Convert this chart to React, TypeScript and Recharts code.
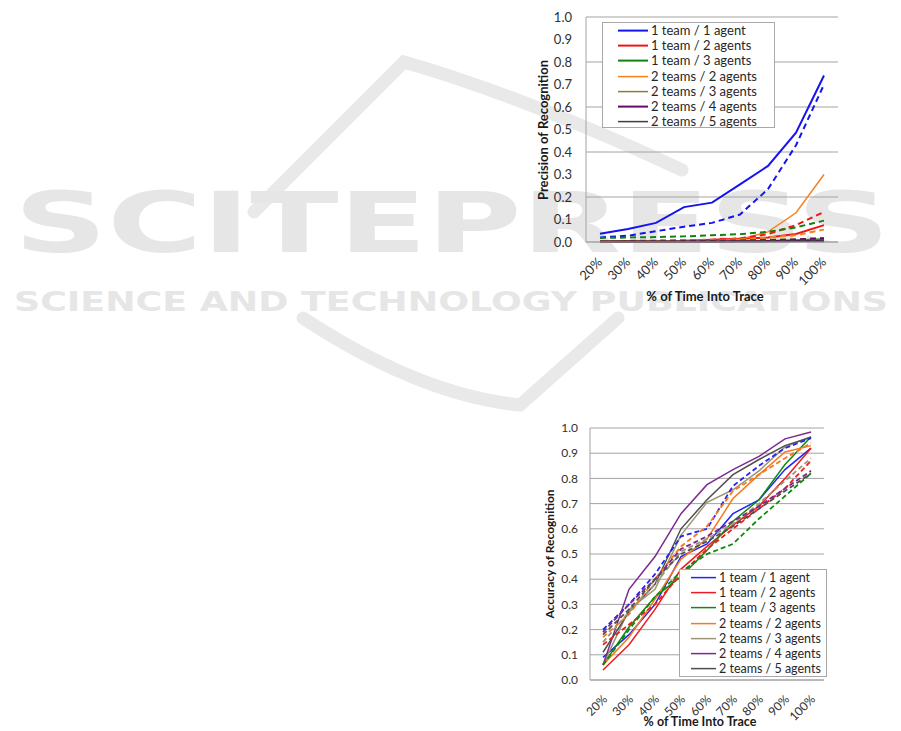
import { CartesianGrid, Legend, Line, LineChart, XAxis, YAxis } from "recharts";

const categories = ["20%", "30%", "40%", "50%", "60%", "70%", "80%", "90%", "100%"];
const yTicks = [0, 0.1, 0.2, 0.3, 0.4, 0.5, 0.6, 0.7, 0.8, 0.9, 1.0];

const seriesNames = [
  "1 team / 1 agent",
  "1 team / 2 agents",
  "1 team / 3 agents",
  "2 teams / 2 agents",
  "2 teams / 3 agents",
  "2 teams / 4 agents",
  "2 teams / 5 agents",
];

// precision of recognition (solid + dashed)
const prec1t1a = [0.037, 0.058, 0.085, 0.155, 0.175, 0.256, 0.338, 0.486, 0.74];
const prec1t2a = [0.003, 0.004, 0.005, 0.006, 0.01, 0.014, 0.02, 0.036, 0.075];
const prec1t3a = [0.002, 0.002, 0.002, 0.003, 0.003, 0.004, 0.005, 0.008, 0.012];
const prec2t2a = [0.0, 0.001, 0.002, 0.003, 0.005, 0.012, 0.045, 0.13, 0.3];
const prec2t3a = [0.001, 0.001, 0.002, 0.002, 0.003, 0.004, 0.005, 0.007, 0.01];
const prec2t4a = [0.001, 0.001, 0.001, 0.002, 0.002, 0.003, 0.004, 0.005, 0.006];
const prec2t5a = [0.0, 0.0, 0.0, 0.001, 0.001, 0.001, 0.001, 0.002, 0.002];

const prec1t1aB = [0.02, 0.028, 0.048, 0.068, 0.085, 0.122, 0.235, 0.43, 0.7];
const prec1t2aB = [0.004, 0.005, 0.006, 0.008, 0.01, 0.016, 0.035, 0.075, 0.134];
const prec1t3aB = [0.018, 0.02, 0.022, 0.025, 0.03, 0.035, 0.045, 0.065, 0.095];
const prec2t2aB = [0.002, 0.003, 0.004, 0.006, 0.008, 0.012, 0.02, 0.03, 0.055];
const prec2t3aB = [0.003, 0.004, 0.005, 0.006, 0.007, 0.008, 0.01, 0.012, 0.016];
const prec2t4aB = [0.002, 0.003, 0.003, 0.004, 0.005, 0.006, 0.008, 0.011, 0.017];
const prec2t5aB = [0.001, 0.001, 0.002, 0.002, 0.003, 0.004, 0.005, 0.006, 0.008];

// accuracy of recognition (solid + dashed)
const acc1t1a = [0.09, 0.18, 0.3, 0.49, 0.54, 0.66, 0.715, 0.835, 0.92];
const acc1t2a = [0.04, 0.14, 0.28, 0.44, 0.53, 0.615, 0.69, 0.8, 0.92];
const acc1t3a = [0.06, 0.21, 0.33, 0.41, 0.515, 0.63, 0.715, 0.855, 0.965];
const acc2t2a = [0.06, 0.17, 0.32, 0.48, 0.56, 0.72, 0.815, 0.905, 0.93];
const acc2t3a = [0.06, 0.28, 0.36, 0.575, 0.705, 0.755, 0.83, 0.925, 0.965];
const acc2t4a = [0.06, 0.36, 0.49, 0.66, 0.775, 0.835, 0.887, 0.957, 0.984];
const acc2t5a = [0.11, 0.27, 0.38, 0.6, 0.715, 0.815, 0.875, 0.93, 0.963];

const acc1t1aB = [0.2, 0.3, 0.42, 0.57, 0.6, 0.77, 0.85, 0.92, 0.96];
const acc1t2aB = [0.14, 0.22, 0.3, 0.42, 0.52, 0.6, 0.68, 0.76, 0.87];
const acc1t3aB = [0.06, 0.2, 0.33, 0.43, 0.5, 0.54, 0.64, 0.73, 0.82];
const acc2t2aB = [0.17, 0.26, 0.4, 0.53, 0.61, 0.75, 0.815, 0.88, 0.94];
const acc2t3aB = [0.15, 0.27, 0.38, 0.51, 0.56, 0.62, 0.7, 0.79, 0.88];
const acc2t4aB = [0.19, 0.3, 0.4, 0.52, 0.57, 0.63, 0.69, 0.76, 0.83];
const acc2t5aB = [0.18, 0.28, 0.4, 0.5, 0.55, 0.61, 0.68, 0.75, 0.82];

const precColors = ["#1414f0", "#f01414", "#128212", "#f5821f", "#8c7d32", "#660a66", "#404040"];
const precWidths = [2, 2, 2, 1.5, 1.5, 2, 1.5];
const accColors = ["#2323f5", "#ee1c1c", "#0f8a0f", "#f7781e", "#9c9676", "#7a2a8e", "#4f4f4f"];

const font = "Lato, 'Noto Sans', sans-serif";

function buildRows(solid: number[][], dashed: number[][]) {
  return categories.map((c, i) => {
    const row: Record<string, string | number> = { t: c };
    solid.forEach((s, k) => (row[`s${k}`] = s[i]));
    dashed.forEach((s, k) => (row[`d${k}`] = s[i]));
    return row;
  });
}

const precRows = buildRows(
  [prec1t1a, prec1t2a, prec1t3a, prec2t2a, prec2t3a, prec2t4a, prec2t5a],
  [prec1t1aB, prec1t2aB, prec1t3aB, prec2t2aB, prec2t3aB, prec2t4aB, prec2t5aB]
);
const accRows = buildRows(
  [acc1t1a, acc1t2a, acc1t3a, acc2t2a, acc2t3a, acc2t4a, acc2t5a],
  [acc1t1aB, acc1t2aB, acc1t3aB, acc2t2aB, acc2t3aB, acc2t4aB, acc2t5aB]
);

function slantTick(dx: number, dy: number, size: number) {
  return (props: any) => {
    const { x, y, payload } = props;
    return (
      <g transform={`translate(${x + dx},${y + dy})`}>
        <text textAnchor="end" transform="rotate(-45)" fontSize={size} fill="#303030" fontFamily={font}>
          {payload.value}
        </text>
      </g>
    );
  };
}

function legendBox(lineX: number, lineW: number, textX: number, size: number, rowH: number) {
  return (props: any) => {
    const items = (props.payload || []).filter((p: any) => p.type !== "none");
    return (
      <div style={{ position: "relative", width: "100%", height: "100%", boxSizing: "border-box", border: "1px solid #a8a8a8", background: "#fff", fontFamily: font }}>
        {items.map((it: any, i: number) => (
          <div key={i} style={{ position: "absolute", left: 0, top: i * rowH, height: rowH, width: "100%" }}>
            <svg width={lineW} height={rowH} style={{ position: "absolute", left: lineX, top: 0 }}>
              <line x1={0} x2={lineW} y1={rowH / 2} y2={rowH / 2} stroke={it.color} strokeWidth={it.payload?.strokeWidth ?? 1.5} />
            </svg>
            <div style={{ position: "absolute", left: textX, top: 0, lineHeight: `${rowH}px`, fontSize: size, color: "#262626", whiteSpace: "nowrap" }}>
              {it.value}
            </div>
          </div>
        ))}
      </div>
    );
  };
}

function title(text: string, cx: number, cy: number, size: number, rotate = false) {
  return (
    <div
      style={{
        position: "absolute",
        left: cx,
        top: cy,
        transform: `translate(-50%, -50%)${rotate ? " rotate(180deg)" : ""}`,
        writingMode: rotate ? "vertical-rl" : undefined,
        whiteSpace: "nowrap",
        fontFamily: font,
        fontWeight: 700,
        fontSize: size,
        lineHeight: 1.1,
        color: "#1a1a1a",
      }}
    >
      {text}
    </div>
  );
}

function Watermark() {
  return (
    <svg width={901} height={731} style={{ position: "absolute", left: 0, top: 0 }}>
      <g fill="none" stroke="#e9e9e9" strokeWidth={13} strokeLinecap="round">
        <path d="M254 212 L404 62 Q520 95 682 170" />
        <path d="M303 318 Q420 395 520 405 L618 318" />
      </g>
      <text x={14} y={252} textLength={876} lengthAdjust="spacingAndGlyphs" fontSize={84} fontWeight={700} fill="#e6e6e6" fontFamily="'DejaVu Sans', sans-serif">
        SCITEPRESS
      </text>
      <text x={14} y={311} textLength={874} lengthAdjust="spacingAndGlyphs" fontSize={27} fontWeight={700} fill="#e6e6e6" fontFamily="'DejaVu Sans', sans-serif">
        SCIENCE AND TECHNOLOGY PUBLICATIONS
      </text>
    </svg>
  );
}

export default function App() {
  return (
    <div style={{ position: "absolute", left: 0, top: 0, width: 901, height: 731, background: "#fff", overflow: "hidden" }}>
      <Watermark />

      <div style={{ position: "absolute", left: 520, top: 0 }}>
        <LineChart width={330} height={310} data={precRows} margin={{ top: 17, right: 12, left: 26, bottom: 0 }}>
          <CartesianGrid vertical={false} stroke="#a3a3a3" />
          <XAxis
            dataKey="t"
            interval={0}
            padding={{ left: 14, right: 14 }}
            height={68}
            tickLine={false}
            tickSize={0}
            stroke="#a3a3a3"
            tick={slantTick(3, 19, 13)}
          />
          <YAxis
            domain={[0, 1]}
            ticks={yTicks}
            width={40}
            tickLine={false}
            tickSize={0}
            tickMargin={14}
            stroke="#a3a3a3"
            tickFormatter={(v: number) => v.toFixed(1)}
            tick={{ fontSize: 13, fill: "#303030", fontFamily: font }}
          />
          <Legend
            layout="vertical"
            align="center"
            verticalAlign="middle"
            wrapperStyle={{ left: 82, top: 22, width: 173, height: 106 }}
            content={legendBox(15, 30, 48, 13, 15.2)}
          />
          {seriesNames.map((n, k) => (
            <Line key={`s${k}`} dataKey={`s${k}`} name={n} stroke={precColors[k]} strokeWidth={precWidths[k]} dot={false} activeDot={false} isAnimationActive={false} />
          ))}
          {seriesNames.map((n, k) => (
            <Line key={`d${k}`} dataKey={`d${k}`} name={n} legendType="none" stroke={precColors[k]} strokeWidth={2} strokeDasharray="6 4" dot={false} activeDot={false} isAnimationActive={false} />
          ))}
        </LineChart>
      </div>
      {title("Precision of Recognition", 543, 130, 13, true)}
      {title("% of Time Into Trace", 705, 296, 13)}

      <div style={{ position: "absolute", left: 520, top: 410 }}>
        <LineChart width={320} height={321} data={accRows} margin={{ top: 18, right: 16, left: 30, bottom: 0 }}>
          <CartesianGrid vertical={false} stroke="#a3a3a3" />
          <XAxis
            dataKey="t"
            interval={0}
            padding={{ left: 13, right: 13 }}
            height={51}
            tickLine={false}
            tickSize={0}
            stroke="#a3a3a3"
            tick={slantTick(5, 18, 12)}
          />
          <YAxis
            domain={[0, 1]}
            ticks={yTicks}
            width={40}
            tickLine={false}
            tickSize={0}
            tickMargin={12}
            stroke="#a3a3a3"
            tickFormatter={(v: number) => v.toFixed(1)}
            tick={{ fontSize: 12, fill: "#303030", fontFamily: font }}
          />
          <Legend
            layout="vertical"
            align="center"
            verticalAlign="middle"
            wrapperStyle={{ left: 159, top: 159, width: 148, height: 108 }}
            content={legendBox(11, 25, 39, 12.5, 15.2)}
          />
          {seriesNames.map((n, k) => (
            <Line key={`s${k}`} dataKey={`s${k}`} name={n} stroke={accColors[k]} strokeWidth={1.5} dot={false} activeDot={false} isAnimationActive={false} />
          ))}
          {seriesNames.map((n, k) => (
            <Line key={`d${k}`} dataKey={`d${k}`} name={n} legendType="none" stroke={accColors[k]} strokeWidth={1.8} strokeDasharray="5 3" dot={false} activeDot={false} isAnimationActive={false} />
          ))}
        </LineChart>
      </div>
      {title("Accuracy of Recognition", 550, 554, 12, true)}
      {title("% of Time Into Trace", 700, 722, 12.5)}
    </div>
  );
}
